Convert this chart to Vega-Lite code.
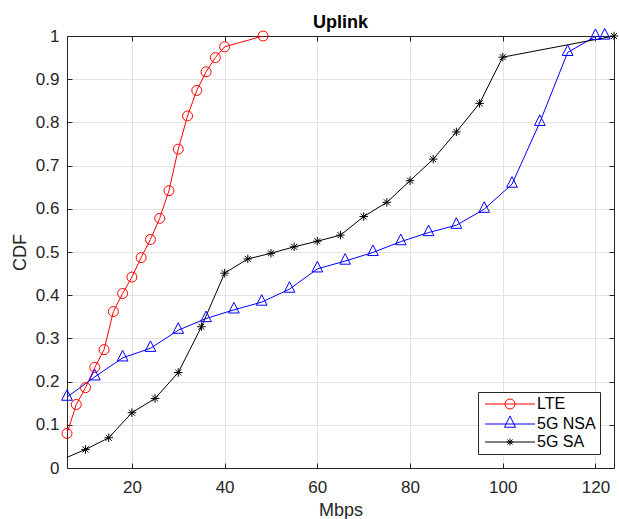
{
  "$schema": "https://vega.github.io/schema/vega-lite/v6.json",
  "autosize": {"type": "none"},
  "padding": {"left": 67, "top": 36, "right": 5, "bottom": 51},
  "width": 547,
  "height": 432,
  "background": "white",
  "title": {"text": "Uplink", "fontSize": 18, "fontWeight": "bold", "font": "Liberation Sans", "color": "black", "baseline": "alphabetic", "offset": 8, "dy": 27},
  "config": {
    "font": "Liberation Sans",
    "view": {"stroke": "#262626", "strokeWidth": 1},
    "axis": {"labelFont": "Liberation Sans", "titleFont": "Liberation Sans"}
  },
  "data": {"values": [
    {"s": "LTE", "x": 6, "y": 0.08},
    {"s": "LTE", "x": 8, "y": 0.147},
    {"s": "LTE", "x": 10, "y": 0.186},
    {"s": "LTE", "x": 12, "y": 0.233},
    {"s": "LTE", "x": 14, "y": 0.274},
    {"s": "LTE", "x": 16, "y": 0.362},
    {"s": "LTE", "x": 18, "y": 0.404},
    {"s": "LTE", "x": 20, "y": 0.442},
    {"s": "LTE", "x": 22, "y": 0.487},
    {"s": "LTE", "x": 24, "y": 0.529},
    {"s": "LTE", "x": 26, "y": 0.578},
    {"s": "LTE", "x": 28, "y": 0.642},
    {"s": "LTE", "x": 30, "y": 0.738},
    {"s": "LTE", "x": 32, "y": 0.815},
    {"s": "LTE", "x": 34, "y": 0.874},
    {"s": "LTE", "x": 36, "y": 0.917},
    {"s": "LTE", "x": 38, "y": 0.95},
    {"s": "LTE", "x": 40, "y": 0.975},
    {"s": "LTE", "x": 48.3, "y": 1.0},
    {"s": "5G NSA", "x": 6, "y": 0.164},
    {"s": "5G NSA", "x": 12, "y": 0.211},
    {"s": "5G NSA", "x": 18, "y": 0.255},
    {"s": "5G NSA", "x": 24, "y": 0.277},
    {"s": "5G NSA", "x": 30, "y": 0.319},
    {"s": "5G NSA", "x": 36, "y": 0.346},
    {"s": "5G NSA", "x": 42, "y": 0.366},
    {"s": "5G NSA", "x": 48, "y": 0.384},
    {"s": "5G NSA", "x": 54, "y": 0.414},
    {"s": "5G NSA", "x": 60, "y": 0.461},
    {"s": "5G NSA", "x": 66, "y": 0.479},
    {"s": "5G NSA", "x": 72, "y": 0.499},
    {"s": "5G NSA", "x": 78, "y": 0.524},
    {"s": "5G NSA", "x": 84, "y": 0.545},
    {"s": "5G NSA", "x": 90, "y": 0.562},
    {"s": "5G NSA", "x": 96, "y": 0.599},
    {"s": "5G NSA", "x": 102, "y": 0.657},
    {"s": "5G NSA", "x": 108, "y": 0.8},
    {"s": "5G NSA", "x": 114, "y": 0.962},
    {"s": "5G NSA", "x": 120, "y": 0.999},
    {"s": "5G NSA", "x": 122, "y": 1.0},
    {"s": "5G SA", "x": 5, "y": 0.02},
    {"s": "5G SA", "x": 10, "y": 0.043},
    {"s": "5G SA", "x": 15, "y": 0.07},
    {"s": "5G SA", "x": 20, "y": 0.128},
    {"s": "5G SA", "x": 25, "y": 0.161},
    {"s": "5G SA", "x": 30, "y": 0.221},
    {"s": "5G SA", "x": 35, "y": 0.327},
    {"s": "5G SA", "x": 40, "y": 0.451},
    {"s": "5G SA", "x": 45, "y": 0.484},
    {"s": "5G SA", "x": 50, "y": 0.497},
    {"s": "5G SA", "x": 55, "y": 0.512},
    {"s": "5G SA", "x": 60, "y": 0.525},
    {"s": "5G SA", "x": 65, "y": 0.539},
    {"s": "5G SA", "x": 70, "y": 0.582},
    {"s": "5G SA", "x": 75, "y": 0.615},
    {"s": "5G SA", "x": 80, "y": 0.665},
    {"s": "5G SA", "x": 85, "y": 0.715},
    {"s": "5G SA", "x": 90, "y": 0.778},
    {"s": "5G SA", "x": 95, "y": 0.844},
    {"s": "5G SA", "x": 100, "y": 0.951},
    {"s": "5G SA", "x": 124, "y": 1.0}
  ]},
  "resolve": {
    "scale": {"shape": "independent", "color": "independent"},
    "axis": {"x": "independent", "y": "independent"},
    "legend": {"shape": "independent", "color": "independent"}
  },
  "layer": [
    {
      "mark": {"type": "line", "strokeWidth": 1, "clip": true},
      "encoding": {
        "x": {"field": "x", "type": "quantitative",
          "scale": {"domain": [6, 124], "nice": false, "zero": false},
          "axis": {"values": [20, 40, 60, 80, 100, 120], "grid": true, "gridColor": "#e3e3e3", "gridWidth": 1,
            "domainColor": "#262626", "domainWidth": 1, "tickColor": "#262626", "tickSize": -5, "tickWidth": 1,
            "labelFontSize": 17, "labelColor": "#262626", "labelPadding": 16,
            "title": "Mbps", "titleFontSize": 18, "titleFontWeight": "normal", "titleColor": "#262626", "titlePadding": 6}},
        "y": {"field": "y", "type": "quantitative",
          "scale": {"domain": [0, 1], "nice": false, "zero": false},
          "axis": {"values": [0, 0.1, 0.2, 0.3, 0.4, 0.5, 0.6, 0.7, 0.8, 0.9, 1], "format": "~g", "grid": true, "gridColor": "#e3e3e3", "gridWidth": 1,
            "domainColor": "#262626", "domainWidth": 1, "tickColor": "#262626", "tickSize": -5, "tickWidth": 1,
            "labelFontSize": 17, "labelColor": "#262626", "labelPadding": 13,
            "title": "CDF", "titleFontSize": 18, "titleFontWeight": "normal", "titleColor": "#262626", "titlePadding": 6}},
        "color": {"field": "s", "type": "nominal",
          "scale": {"domain": ["LTE", "5G NSA", "5G SA"], "range": ["#ff0000", "#0000ff", "#000000"]},
          "legend": null}
      }
    },
    {
      "transform": [{"filter": "datum.x >= 6"}],
      "mark": {"type": "point", "filled": false, "opacity": 1, "size": 100, "strokeWidth": 1},
      "encoding": {
        "x": {"field": "x", "type": "quantitative", "axis": null},
        "y": {"field": "y", "type": "quantitative", "axis": null},
        "color": {"field": "s", "type": "nominal",
          "scale": {"domain": ["LTE", "5G NSA", "5G SA"], "range": ["#ff0000", "#0000ff", "#000000"]},
          "legend": null},
        "shape": {"field": "s", "type": "nominal",
          "scale": {"domain": ["LTE", "5G NSA", "5G SA"],
            "range": ["M1,0A1,1 0 1,1 -1,0A1,1 0 1,1 1,0", "M0,-1.5L-1.07,0.62L1.07,0.62Z", "M-0.85,0L0.85,0M0,-0.85L0,0.85M-0.6,-0.6L0.6,0.6M-0.6,0.6L0.6,-0.6"]},
          "legend": null}
      }
    },
    {
      "transform": [{"filter": "false"}],
      "mark": {"type": "point", "filled": false, "opacity": 1, "strokeWidth": 1},
      "encoding": {
        "x": {"field": "x", "type": "quantitative",
          "axis": {"orient": "top", "labels": false, "grid": false, "title": null, "values": [20, 40, 60, 80, 100, 120],
            "domainColor": "#262626", "domainWidth": 1, "tickColor": "#262626", "tickSize": -5, "tickWidth": 1}},
        "y": {"field": "y", "type": "quantitative",
          "axis": {"orient": "right", "labels": false, "grid": false, "title": null, "values": [0, 0.1, 0.2, 0.3, 0.4, 0.5, 0.6, 0.7, 0.8, 0.9, 1],
            "domainColor": "#262626", "domainWidth": 1, "tickColor": "#262626", "tickSize": -5, "tickWidth": 1}},
        "color": {"field": "s", "type": "nominal",
          "scale": {"domain": ["LTE", "5G NSA", "5G SA"], "range": ["#ff0000", "#0000ff", "#000000"]},
          "legend": {"title": null, "orient": "bottom-right", "offset": 14,
            "strokeColor": "#262626", "fillColor": "white", "padding": 4, "rowPadding": 2, "cornerRadius": 0,
            "labelFont": "Liberation Sans", "labelFontSize": 16, "labelColor": "black",
            "symbolSize": 100, "symbolStrokeWidth": 1, "symbolOffset": 20, "labelOffset": 19}},
        "shape": {"field": "s", "type": "nominal",
          "scale": {"domain": ["LTE", "5G NSA", "5G SA"],
            "range": ["M-5,0L5,0M1,0A1,1 0 1,1 -1,0A1,1 0 1,1 1,0", "M-5,0L5,0M0,-1.6L-1.1,0.65L1.1,0.65Z", "M-5,0L5,0M-0.7,0L0.7,0M0,-0.7L0,0.7M-0.5,-0.5L0.5,0.5M-0.5,0.5L0.5,-0.5"]},
          "legend": {"title": null, "orient": "bottom-right", "offset": 14,
            "strokeColor": "#262626", "fillColor": "white", "padding": 4, "rowPadding": 2, "cornerRadius": 0,
            "labelFont": "Liberation Sans", "labelFontSize": 16, "labelColor": "black",
            "symbolSize": 100, "symbolStrokeWidth": 1, "symbolOffset": 20, "labelOffset": 19}}
      }
    }
  ]
}
